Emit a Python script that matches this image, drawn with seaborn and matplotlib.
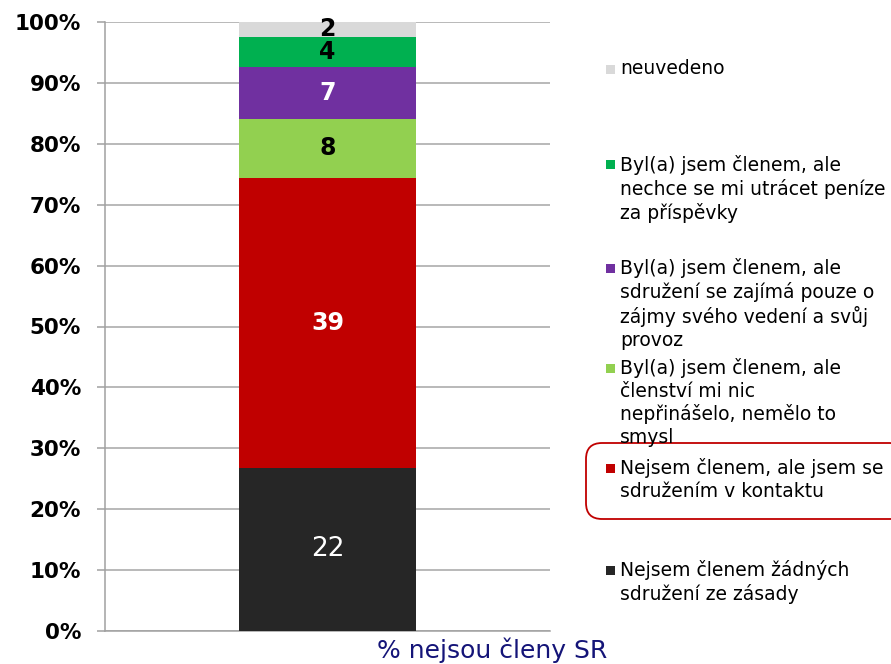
import matplotlib
matplotlib.use("Agg")
import matplotlib.pyplot as plt
from matplotlib.patches import Rectangle, FancyBboxPatch
import seaborn as sns
import numpy as np
import pandas as pd

# ---- data ----
category = "% nejsou členy SR"
segments = [
    "Nejsem členem žádných\nsdružení ze zásady",
    "Nejsem členem, ale jsem se\nsdružením v kontaktu",
    "Byl(a) jsem členem, ale\nčlenství mi nic\nnepřinášelo, nemělo to\nsmysl",
    "Byl(a) jsem členem, ale\nsdružení se zajímá pouze o\nzájmy svého vedení a svůj\nprovoz",
    "Byl(a) jsem členem, ale\nnechce se mi utrácet peníze\nza příspěvky",
    "neuvedeno",
]
values = [22, 39, 8, 7, 4, 2]
colors = ["#262626", "#C00000", "#92D050", "#7030A0", "#00B050", "#D9D9D9"]
label_colors = ["white", "white", "black", "white", "black", "black"]
label_weights = ["normal", "bold", "bold", "bold", "bold", "bold"]
label_sizes = [19, 17, 17, 17, 17, 17]
yticks = [0, 10, 20, 30, 40, 50, 60, 70, 80, 90, 100]
ytick_labels = ["0%", "10%", "20%", "30%", "40%", "50%", "60%", "70%", "80%", "90%", "100%"]

total = sum(values)
pct = [v / total * 100 for v in values]
tops = np.cumsum(pct)
bottoms = tops - np.array(pct)

df = pd.DataFrame({"segment": segments, "value": values, "pct": pct,
                   "top": tops, "bottom": bottoms, "cat": category})

sns.set_style("white")
plt.rcParams["font.family"] = ["DejaVu Sans"]

W, H = 891, 664
fig = plt.figure(figsize=(W / 100, H / 100), dpi=100)
ax = fig.add_axes([105 / W, 1 - 631 / H, 445 / W, (631 - 22) / H])

# stacked bar: draw cumulative totals from the tallest down
for i in reversed(range(len(df))):
    sns.barplot(data=df.iloc[[i]], x="cat", y="top", color=colors[i],
                saturation=1, width=0.398, linewidth=0, ax=ax, zorder=3)

ax.set_xlim(-0.5, 0.5)
ax.set_ylim(0, 100)
ax.set_yticks(yticks)
ax.set_yticklabels(ytick_labels, fontsize=15.5, fontweight="bold", color="black")
ax.set_xticks([])
ax.set_xlabel("")
ax.set_ylabel("")
ax.yaxis.grid(True, color="#A6A6A6", linewidth=1.1, zorder=0)
ax.set_axisbelow(True)
for s in ["top", "right"]:
    ax.spines[s].set_visible(False)
for s in ["left", "bottom"]:
    ax.spines[s].set_color("#A0A0A0")
    ax.spines[s].set_linewidth(1.1)
ax.tick_params(axis="y", which="both", left=True, length=6, width=1.1,
               color="#A0A0A0", pad=11.3)

# segment labels
for i, row in df.iterrows():
    ax.text(0, (row["top"] + row["bottom"]) / 2, f"{row['value']}",
            ha="center", va="center", color=label_colors[i],
            fontsize=label_sizes[i], fontweight=label_weights[i], zorder=5)

# category label
fig.text(492 / W, 1 - 650 / H, category, ha="center", va="center",
         fontsize=18, color="#141478")

# legend (manual, top-to-bottom = reversed stacking)
legend_first_line_y = [570, 468, 368, 268, 165, 69]
for i in range(len(segments)):
    yc = legend_first_line_y[i]
    fig.patches.append(Rectangle((606 / W, 1 - (yc + 4.5) / H), 9 / W, 9 / H,
                                 transform=fig.transFigure, facecolor=colors[i],
                                 edgecolor="none"))
    fig.text(620 / W, 1 - (yc - 10) / H, segments[i], ha="left", va="top",
             fontsize=13.5, color="black", linespacing=1.24)

# highlight box around the red entry
fig.patches.append(FancyBboxPatch((586 / W, 1 - 519 / H), 320 / W, 76 / H,
                                  boxstyle="round,pad=0,rounding_size=0.018",
                                  transform=fig.transFigure, facecolor="none",
                                  edgecolor="#C00000", linewidth=1.3,
                                  mutation_aspect=W / H))

fig.savefig("out.png", dpi=100)
